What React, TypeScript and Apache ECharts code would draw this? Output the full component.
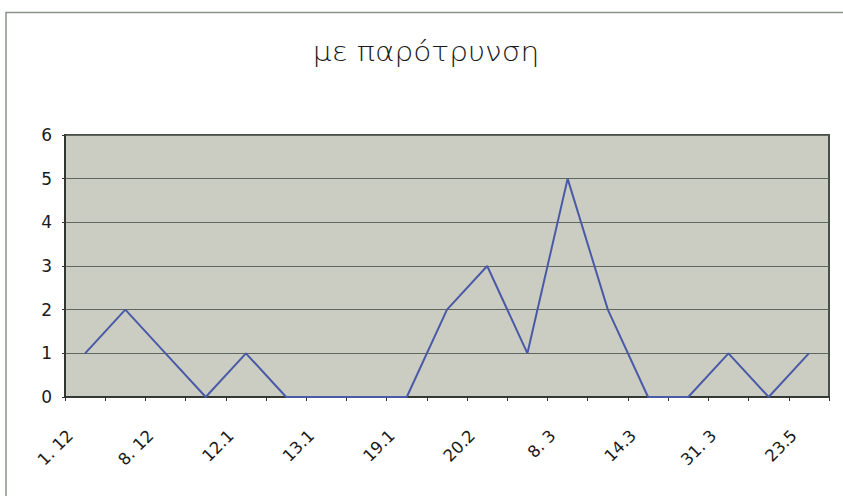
import React, { useEffect, useRef } from "react";
import * as echarts from "echarts";

// Session dates; only every second one carries a printed label.
const categories: string[] = [
  "1. 12", "", "8. 12", "", "12.1", "", "13.1", "", "19.1", "",
  "20.2", "", "8. 3", "", "14.3", "", "31. 3", "", "23.5",
];

// Counts per session.
const counts: number[] = [1, 2, 1, 0, 1, 0, 0, 0, 0, 2, 3, 1, 5, 2, 0, 0, 1, 0, 1];

const yTicks: number[] = [0, 1, 2, 3, 4, 5, 6];

const titleText = "με παρότρυνση";

export default function App() {
  const ref = useRef<HTMLDivElement>(null);

  useEffect(() => {
    if (!ref.current) return;
    const chart = echarts.init(ref.current, null, { renderer: "svg" });
    chart.setOption({
      animation: false,
      backgroundColor: "#ffffff",
      graphic: [
        {
          type: "polyline",
          shape: { points: [[6, 500], [6, 12.5], [850, 12.5]] },
          style: { stroke: "#8c928b", lineWidth: 1.5, fill: "none" },
          silent: true,
        },
        {
          // wide, light title lettering
          type: "text",
          x: 426,
          y: 52,
          scaleX: 1.14,
          style: {
            text: titleText,
            align: "center",
            verticalAlign: "middle",
            fontFamily: "DejaVu Sans",
            fontWeight: 200,
            fontSize: 26,
            fill: "#1a1a1a",
          },
          silent: true,
        },
      ],
      grid: {
        left: 65,
        right: 14,
        top: 135,
        bottom: 99,
        show: true,
        backgroundColor: "#cbcdc3",
        borderColor: "#465046",
        borderWidth: 2,
      },
      xAxis: {
        type: "category",
        data: categories,
        boundaryGap: true,
        axisLine: { show: true, lineStyle: { color: "#2a2f2a", width: 1.5 } },
        axisTick: {
          show: true,
          interval: 0,
          length: 4,
          lineStyle: { color: "#333" },
        },
        axisLabel: {
          interval: 1,
          rotate: 45,
          margin: 21,
          padding: [0, 21, 0, 0],
          fontFamily: "DejaVu Sans",
          fontSize: 16.5,
          color: "#1a1a1a",
        },
        splitLine: { show: false },
      },
      yAxis: {
        type: "value",
        min: yTicks[0],
        max: yTicks[yTicks.length - 1],
        interval: 1,
        axisLine: { show: true, lineStyle: { color: "#2a2f2a", width: 1.5 } },
        axisTick: { show: true, length: 3, lineStyle: { color: "#333" } },
        axisLabel: {
          margin: 13,
          fontFamily: "DejaVu Sans",
          fontSize: 17,
          color: "#1a1a1a",
        },
        splitLine: { show: true, lineStyle: { color: "#5f665e", width: 1 } },
      },
      series: [
        {
          type: "line",
          data: counts,
          symbol: "none",
          lineStyle: { color: "#4a5aa6", width: 2 },
        },
      ],
    });
    return () => chart.dispose();
  }, []);

  return <div ref={ref} style={{ width: 843, height: 496, position: "absolute", left: 0, top: 0 }} />;
}
